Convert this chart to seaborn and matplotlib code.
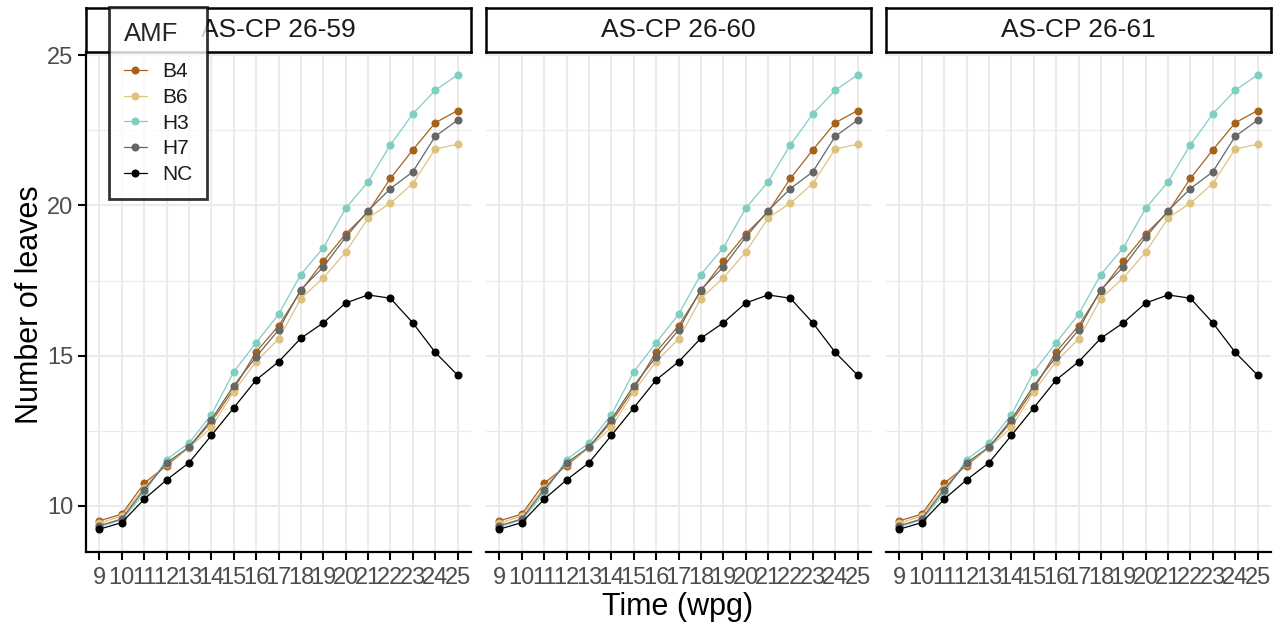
import numpy as np
import pandas as pd
import matplotlib
matplotlib.use("Agg")
import matplotlib.pyplot as plt
import seaborn as sns

weeks = list(range(9, 26))
panels = ["AS-CP 26-59", "AS-CP 26-60", "AS-CP 26-61"]
amf_levels = ["B4", "B6", "H3", "H7", "NC"]
colors = ["#A6611A", "#DFC27D", "#80CDC1", "#666666", "#000000"]

B4 = [9.50, 9.72, 10.75, 11.34, 11.95, 12.79, 13.89, 15.12, 15.99, 17.15, 18.14, 19.05, 19.78, 20.90, 21.85, 22.75, 23.16]
B6 = [9.42, 9.66, 10.60, 11.40, 11.93, 12.61, 13.80, 14.80, 15.55, 16.90, 17.59, 18.44, 19.58, 20.08, 20.73, 21.88, 22.04]
H3 = [9.30, 9.53, 10.42, 11.54, 12.09, 13.03, 14.46, 15.43, 16.37, 17.70, 18.59, 19.90, 20.79, 22.02, 23.05, 23.83, 24.35]
H7 = [9.34, 9.56, 10.54, 11.43, 11.95, 12.87, 14.00, 14.96, 15.85, 17.20, 17.95, 18.94, 19.82, 20.56, 21.12, 22.30, 22.84]
NC = [9.22, 9.44, 10.22, 10.86, 11.43, 12.34, 13.26, 14.19, 14.79, 15.58, 16.09, 16.75, 17.02, 16.91, 16.09, 15.11, 14.35]

series = {"B4": B4, "B6": B6, "H3": H3, "H7": H7, "NC": NC}
rows = []
for p in panels:
    for k, vals in series.items():
        for w, v in zip(weeks, vals):
            rows.append({"panel": p, "AMF": k, "week": w, "leaves": v})
df = pd.DataFrame(rows)

sns.set_theme(style="white")
plt.rcParams["font.family"] = ["Liberation Sans", "DejaVu Sans"]

W, H = 1286, 633
fig = plt.figure(figsize=(W / 100, H / 100), dpi=100)
palette = dict(zip(amf_levels, colors))

lefts = [86, 486, 886]
pw = 385
top_px, bot_px = 52, 552
strip_top = 8

ymin, ymax = 8.46, 25.11
for i, p in enumerate(panels):
    ax = fig.add_axes([lefts[i] / W, 1 - bot_px / H, pw / W, (bot_px - top_px) / H])
    sub = df[df.panel == p]
    sns.lineplot(data=sub, x="week", y="leaves", hue="AMF", hue_order=amf_levels,
                 palette=palette, marker="o", markersize=5.8, markeredgewidth=0,
                 linewidth=0.9, ax=ax, legend=(i == 0))
    ax.set_xlim(8.4, 25.6)
    ax.set_ylim(ymin, ymax)
    ax.set_xticks(weeks)
    ax.set_xticklabels([str(w) for w in weeks])
    ax.set_yticks([10, 15, 20, 25])
    ax.set_yticks([12.5, 17.5, 22.5], minor=True)
    ax.grid(True, which="major", color="#EBEBEB", linewidth=1.5)
    ax.grid(True, which="minor", axis="y", color="#EBEBEB", linewidth=0.8)
    ax.set_axisbelow(True)
    for s in ["top", "right"]:
        ax.spines[s].set_visible(False)
    for s in ["left", "bottom"]:
        ax.spines[s].set_color("black")
        ax.spines[s].set_linewidth(1.6)
    ax.tick_params(axis="both", which="major", direction="out", length=6, width=1.5,
                   color="black", labelcolor="#4D4D4D", labelsize=17, pad=3,
                   bottom=True, left=True)
    ax.tick_params(axis="x", which="major", pad=5)
    ax.tick_params(axis="y", which="minor", length=0)
    ax.set_xlabel("")
    ax.set_ylabel("")
    if i > 0:
        ax.spines["left"].set_visible(False)
        ax.tick_params(axis="y", which="both", left=False, labelleft=False)
    if i == 0:
        handles, labels = ax.get_legend_handles_labels()
        ax.get_legend().remove()
    # strip
    sax = fig.add_axes([lefts[i] / W, 1 - top_px / H, pw / W, (top_px - strip_top) / H])
    sax.set_xticks([]); sax.set_yticks([])
    sax.set_facecolor("white")
    for s in sax.spines.values():
        s.set_color("black"); s.set_linewidth(1.8)
    sax.text(0.5, 0.5, p, ha="center", va="center", fontsize=19, color="#1A1A1A",
             transform=sax.transAxes)

leg = fig.legend(handles, labels, title="AMF", loc="upper left",
                 bbox_to_anchor=(109 / W, 1 - 7 / H), frameon=True, fontsize=15,
                 title_fontsize=18.5, borderpad=0.7, labelspacing=0.32,
                 handlelength=1.1, handletextpad=0.75, borderaxespad=0, fancybox=False)
leg.get_frame().set_edgecolor("black")
leg.get_frame().set_linewidth(2.0)
leg._legend_box.align = "left"
leg._legend_box.sep = 12
leg.set_zorder(10)
for t in leg.get_texts():
    t.set_color("#1A1A1A")

fig.text(30 / W, 1 - 305 / H, "Number of leaves", rotation=90, ha="center", va="center",
         fontsize=22, color="black")
fig.text(678 / W, 1 - 607 / H, "Time (wpg)", ha="center", va="center",
         fontsize=22, color="black")

fig.savefig("out.png", dpi=100)
